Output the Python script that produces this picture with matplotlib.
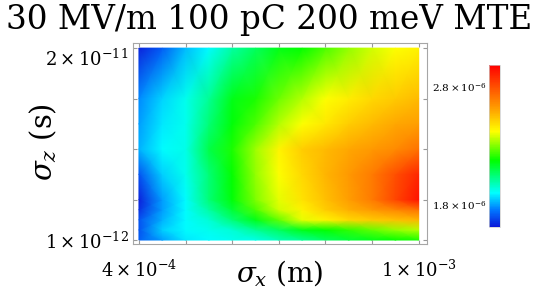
import numpy as np
import matplotlib.pyplot as plt
from matplotlib.colors import LinearSegmentedColormap

plt.rcParams['font.family'] = 'DejaVu Serif'
plt.rcParams['mathtext.fontset'] = 'dejavuserif'

# sigma_x (m), columns
sx = np.array([4.0, 4.5, 5.0, 5.5, 6.0, 6.5, 7.0, 7.5, 8.0, 8.5, 9.0, 9.5, 10.0]) * 1e-4
# sigma_z (s), rows
sz = np.array([1.0, 2.0, 3.0, 4.0, 5.0, 7.5, 10.0, 12.5, 15.0, 20.0]) * 1e-12
emit = np.array([
    [1.72, 1.80, 1.88, 1.90, 1.92, 1.93, 1.98, 2.02, 2.08, 2.12, 2.15, 2.18, 2.20],
    [1.70, 1.85, 1.90, 1.92, 1.95, 2.02, 2.08, 2.15, 2.18, 2.22, 2.27, 2.32, 2.35],
    [1.70, 1.82, 1.90, 1.95, 2.05, 2.15, 2.27, 2.40, 2.45, 2.50, 2.53, 2.55, 2.57],
    [1.65, 1.80, 1.90, 2.00, 2.12, 2.25, 2.38, 2.45, 2.52, 2.58, 2.63, 2.67, 2.72],
    [1.63, 1.80, 1.90, 2.05, 2.17, 2.30, 2.40, 2.48, 2.55, 2.62, 2.70, 2.82, 2.94],
    [1.70, 1.85, 1.92, 2.05, 2.18, 2.32, 2.42, 2.50, 2.57, 2.63, 2.70, 2.80, 2.90],
    [1.82, 1.90, 1.93, 2.10, 2.20, 2.33, 2.44, 2.52, 2.56, 2.60, 2.63, 2.66, 2.72],
    [1.80, 1.88, 1.92, 2.05, 2.17, 2.25, 2.35, 2.42, 2.47, 2.52, 2.56, 2.60, 2.62],
    [1.78, 1.86, 1.92, 2.02, 2.15, 2.20, 2.28, 2.35, 2.42, 2.46, 2.50, 2.53, 2.56],
    [1.63, 1.72, 1.83, 1.90, 2.00, 2.08, 2.15, 2.18, 2.25, 2.32, 2.38, 2.42, 2.45],
]) * 1e-6

vmin, vmax = 1.614e-6, 2.986e-6
cb_ticks = [1.8e-6, 2.8e-6]
cb_labels = [r'$1.8\times10^{-6}$', r'$2.8\times10^{-6}$']

cmap = LinearSegmentedColormap.from_list('mma', [
    (0.0, (0.05, 0.1, 0.85)),
    (0.1, (0.0, 0.45, 1.0)),
    (0.21, (0.0, 1.0, 1.0)),
    (0.41, (0.0, 1.0, 0.0)),
    (0.59, (1.0, 1.0, 0.0)),
    (0.72, (1.0, 0.65, 0.0)),
    (1.0, (1.0, 0.0, 0.0)),
])

fig = plt.figure(figsize=(5.38, 2.93), dpi=100)
ax = fig.add_axes([0.247, 0.167, 0.546, 0.686])

X, Y = np.meshgrid(sx, sz)
mesh = ax.pcolormesh(X, Y, emit, shading='gouraud', cmap=cmap, vmin=vmin, vmax=vmax)

ax.set_xlim(4e-4 - 1.3e-5, 1e-3 + 1.7e-5)
ax.set_ylim(1e-12 - 4e-13, 2e-11 + 5e-13)

xt = np.arange(4, 11) * 1e-4
ax.set_xticks(xt)
ax.set_xticklabels([r'$4\times10^{-4}$', '', '', '', '', '', r'$1\times10^{-3}$'])
yt = [1e-12, 5e-12, 1e-11, 1.5e-11, 2e-11]
ax.set_yticks(yt)
ax.set_yticklabels([r'$1\times10^{-12}$', '', '', '', r'$2\times10^{-11}$'])
ax.get_yticklabels()[-1].set_verticalalignment('top')

ax.tick_params(direction='in', length=3, color='0.6', top=True, right=True,
               labelsize=13)
ax.tick_params(axis='x', pad=11)
ax.tick_params(axis='y', pad=3)
for s in ax.spines.values():
    s.set_color('0.65')

ax.set_xlabel(r'$\sigma_x$ (m)', fontsize=20, va='center')
ax.xaxis.set_label_coords(0.5, -0.144)
ax.set_ylabel(r'$\sigma_z$ (s)', fontsize=21, va='center', ha='center')
ax.yaxis.set_label_coords(-0.306, 0.507)

cax = fig.add_axes([0.909, 0.225, 0.0205, 0.553])
cb = fig.colorbar(mesh, cax=cax, ticks=cb_ticks)
cb.ax.set_yticklabels(cb_labels)
cb.ax.yaxis.set_ticks_position('left')
cb.ax.tick_params(length=0, labelsize=7.5, pad=2)
cb.outline.set_edgecolor('0.8')
cb.outline.set_linewidth(0.5)

fig.text(0.5, 1 - 20 / 293, '30 MV/m 100 pC 200 meV MTE', fontsize=23.5,
         ha='center', va='center')

fig.savefig('out.png', dpi=100)
